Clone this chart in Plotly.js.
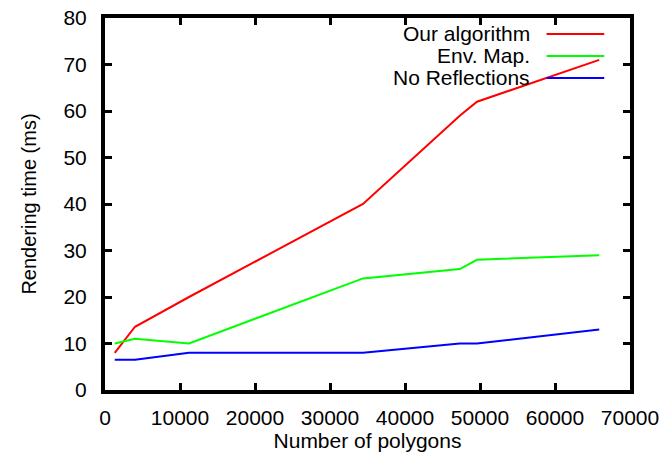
<!DOCTYPE html>
<html>
<head>
<meta charset="utf-8">
<script src="https://cdn.plot.ly/plotly-3.0.1.min.js"></script>
<style>html,body{margin:0;padding:0;background:#fff;}#chart{width:668px;height:461px;}</style>
</head>
<body>
<div id="chart"></div>
<script>
const polygons = [1300, 4000, 11200, 34400, 47300, 49600, 65900];
const ourAlgorithm = [8, 13.6, 20, 40, 59, 62, 71];
const envMap = [10, 11, 10, 24, 26, 28, 29];
const noReflections = [6.5, 6.5, 8, 8, 10, 10, 13];
const seriesNames = ['Our algorithm', 'Env. Map.', 'No Reflections'];
const seriesColors = ['#ff0000', '#00ff00', '#0000ff'];
const seriesValues = [ourAlgorithm, envMap, noReflections];
const xTicks = [0, 10000, 20000, 30000, 40000, 50000, 60000, 70000];
const yTicks = [0, 10, 20, 30, 40, 50, 60, 70, 80];

const font = {family: 'Liberation Sans, Arial, sans-serif', size: 21, color: '#000'};

const traces = seriesValues.map((vals, i) => ({
  x: polygons, y: vals, type: 'scatter', mode: 'lines', name: seriesNames[i],
  line: {color: seriesColors[i], width: 2}, showlegend: false
}));

// gnuplot-style key: text right-aligned, sample line on the right
const keyRowsY = [0.957, 0.898, 0.839];
const annotations = seriesNames.map((n, i) => ({
  xref: 'paper', yref: 'paper', x: 0.8126, y: keyRowsY[i], xanchor: 'right', yanchor: 'middle',
  text: n, showarrow: false, font: font
}));
const shapes = seriesNames.map((n, i) => ({
  type: 'line', xref: 'paper', yref: 'paper', x0: 0.841, x1: 0.951, y0: keyRowsY[i], y1: keyRowsY[i],
  line: {color: seriesColors[i], width: 2}
}));

const axisCommon = {
  showline: true, linecolor: '#000', linewidth: 4, mirror: 'ticks',
  ticks: 'inside', ticklen: 7, tickwidth: 3, tickcolor: '#000',
  showgrid: false, zeroline: false, tickfont: font
};

const layout = {
  width: 668, height: 461,
  margin: {l: 105, r: 37.5, t: 18, b: 71},
  paper_bgcolor: '#fff', plot_bgcolor: '#fff',
  font: font,
  xaxis: Object.assign({}, axisCommon, {
    range: [0, 70000], tickvals: xTicks, ticktext: xTicks.map(String),
    title: {text: 'Number of polygons', font: font, standoff: 6}, ticklabelstandoff: 6
  }),
  yaxis: Object.assign({}, axisCommon, {
    range: [0, 80], tickvals: yTicks, ticktext: yTicks.map(String),
    title: {text: 'Rendering time (ms)', font: Object.assign({}, font, {size: 20}), standoff: 22}, ticklabelstandoff: 10
  }),
  annotations: annotations,
  shapes: shapes,
  showlegend: false
};

Plotly.newPlot('chart', traces, layout, {displayModeBar: false, staticPlot: true});
</script>
</body>
</html>
